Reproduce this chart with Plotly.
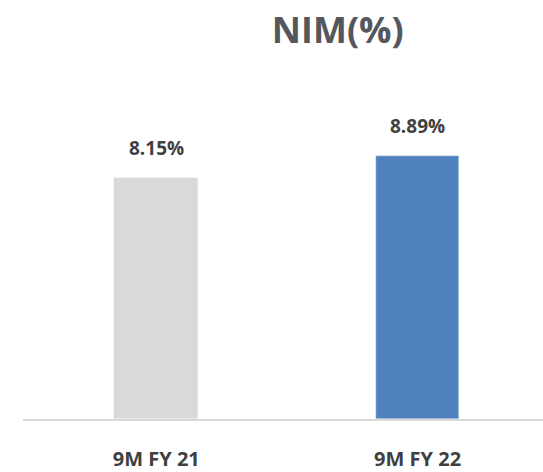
import plotly.graph_objects as go

categories = ["9M FY 21", "9M FY 22"]
values = [8.15, 8.89]
labels = ["8.15%", "8.89%"]
colors = ["#d9d9d9", "#4f81bd"]

fig = go.Figure()
fig.add_trace(go.Bar(x=categories, y=values, marker_color=colors, width=0.32,
                     hoverinfo="skip"))

for c, v, t in zip(categories, values, labels):
    fig.add_annotation(x=c, y=v, text="<b>" + t + "</b>", showarrow=False, yanchor="bottom", yshift=15,
                       font=dict(family="Open Sans", size=19, color="#404040"))

fig.update_layout(
    width=543, height=472,
    margin=dict(l=23, r=0, t=138, b=50),
    paper_bgcolor="white", plot_bgcolor="white",
    showlegend=False,
    title=dict(text="<b>NIM(%)</b>", x=0.622, xref="container", xanchor="center",
               y=1 - 30/472, yref="container", yanchor="middle",
               font=dict(family="Open Sans", size=36, color="#54575c")),
    bargap=0,
)
fig.update_xaxes(type="category", range=[-0.51, 1.48], showline=True, linecolor="#d9d9d9",
                 linewidth=2, showgrid=False, ticks="outside", ticklen=21, tickcolor="white",
                 tickvals=categories, ticktext=["<b>" + c + "</b>" for c in categories],
                 tickfont=dict(family="Open Sans", size=20, color="#404040"))
fig.update_yaxes(range=[0, 9.5], visible=False, showgrid=False, zeroline=False)

fig.write_html("out.html")
